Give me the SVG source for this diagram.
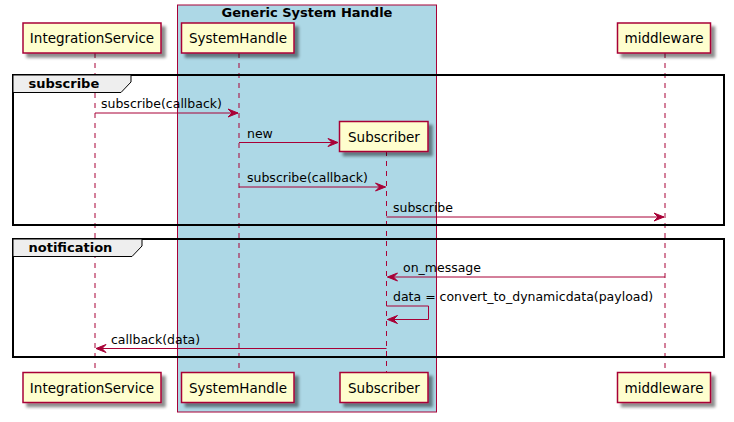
<svg xmlns="http://www.w3.org/2000/svg" width="734" height="422" viewBox="0 0 734 422">
<defs>
<filter id="sh" x="-20%" y="-30%" width="150%" height="180%">
<feGaussianBlur in="SourceAlpha" stdDeviation="1.7"/>
<feOffset dx="4" dy="4" result="b"/>
<feComponentTransfer><feFuncA type="linear" slope="0.45"/></feComponentTransfer>
<feMerge><feMergeNode/><feMergeNode in="SourceGraphic"/></feMerge>
</filter>
<marker id="ah" markerUnits="userSpaceOnUse" markerWidth="12" markerHeight="10" refX="10" refY="4" orient="auto" overflow="visible">
<path d="M0,0 L10,4 L0,8 L4,4 Z" fill="#A80036" stroke="#A80036" stroke-width="1"/>
</marker>
<style>
.box{fill:#ADD8E6;stroke:#A80036;stroke-width:1}
.part{fill:#FEFECE;stroke:#A80036;stroke-width:1.5}
.life{stroke:#A80036;stroke-width:1;stroke-dasharray:5,5;fill:none}
.msg{stroke:#A80036;stroke-width:1;fill:none;marker-end:url(#ah)}
.frame{fill:none;stroke:#000000;stroke-width:2}
.tab{fill:#EEEEEE;stroke:#000000;stroke-width:1}
.pt{font-family:"DejaVu Sans",sans-serif;font-size:13.5px;fill:#000000;text-anchor:middle}
.mt{font-family:"DejaVu Sans",sans-serif;font-size:12.5px;fill:#000000}
.bt{font-family:"DejaVu Sans",sans-serif;font-size:13px;font-weight:bold;fill:#000000}
</style>
</defs>
<rect width="734" height="422" fill="#FFFFFF"/>
<g id="box-generic-system-handle">
<rect class="box" x="177.5" y="5" width="259" height="407"/>
<text class="bt" x="307" y="17" text-anchor="middle">Generic System Handle</text>
</g>
<g id="lifelines">
<line class="life" x1="95" y1="53" x2="95" y2="372"/>
<line class="life" x1="239" y1="53" x2="239" y2="372"/>
<line class="life" x1="386.5" y1="151" x2="386.5" y2="372"/>
<line class="life" x1="665" y1="53" x2="665" y2="372"/>
</g>
<g id="group-subscribe">
<rect class="frame" x="13" y="75" width="711" height="150"/>
<path class="tab" d="M13,75 H131 V82 L121,92.5 H13 Z"/>
<text class="bt" x="28.5" y="88">subscribe</text>
</g>
<g id="group-notification">
<rect class="frame" x="13" y="239" width="711" height="118"/>
<path class="tab" d="M13,239 H142 V246 L132,256.5 H13 Z"/>
<text class="bt" x="28.5" y="252">notification</text>
</g>
<g id="IntegrationService">
<rect class="part" x="23" y="23" width="138" height="30" filter="url(#sh)"/>
<text class="pt" x="92" y="43">IntegrationService</text>
<rect class="part" x="23" y="372.5" width="138" height="30" filter="url(#sh)"/>
<text class="pt" x="92" y="392.5">IntegrationService</text>
</g>
<g id="SystemHandle">
<rect class="part" x="181.5" y="23" width="112.5" height="30" filter="url(#sh)"/>
<text class="pt" x="238" y="43">SystemHandle</text>
<rect class="part" x="181.5" y="372.5" width="112.5" height="30" filter="url(#sh)"/>
<text class="pt" x="238" y="392.5">SystemHandle</text>
</g>
<g id="Subscriber">
<rect class="part" x="339.5" y="121.5" width="88.5" height="30" filter="url(#sh)"/>
<text class="pt" x="384" y="141.5">Subscriber</text>
<rect class="part" x="340" y="372.5" width="88" height="30" filter="url(#sh)"/>
<text class="pt" x="384" y="392.5">Subscriber</text>
</g>
<g id="middleware">
<rect class="part" x="617.5" y="23" width="93" height="30" filter="url(#sh)"/>
<text class="pt" x="664" y="43">middleware</text>
<rect class="part" x="617.5" y="372.5" width="93" height="30" filter="url(#sh)"/>
<text class="pt" x="664" y="392.5">middleware</text>
</g>
<g id="connectors">
<line class="msg" x1="95" y1="113" x2="238" y2="113"/>
<text class="mt" x="101" y="108">subscribe(callback)</text>
<line class="msg" x1="239" y1="142.5" x2="338" y2="142.5"/>
<text class="mt" x="247" y="137.5">new</text>
<line class="msg" x1="239" y1="187" x2="385.5" y2="187"/>
<text class="mt" x="247" y="182">subscribe(callback)</text>
<line class="msg" x1="386.5" y1="217" x2="664" y2="217"/>
<text class="mt" x="393" y="212">subscribe</text>
<line class="msg" x1="665" y1="277" x2="387.5" y2="277"/>
<text class="mt" x="403" y="272">on_message</text>
<path class="msg" d="M386.5,306 H428.5 V319.5 H387.5"/>
<text class="mt" x="393" y="301">data = convert_to_dynamicdata(payload)</text>
<line class="msg" x1="386.5" y1="348.5" x2="96" y2="348.5"/>
<text class="mt" x="111" y="343.5">callback(data)</text>
</g>
</svg>
